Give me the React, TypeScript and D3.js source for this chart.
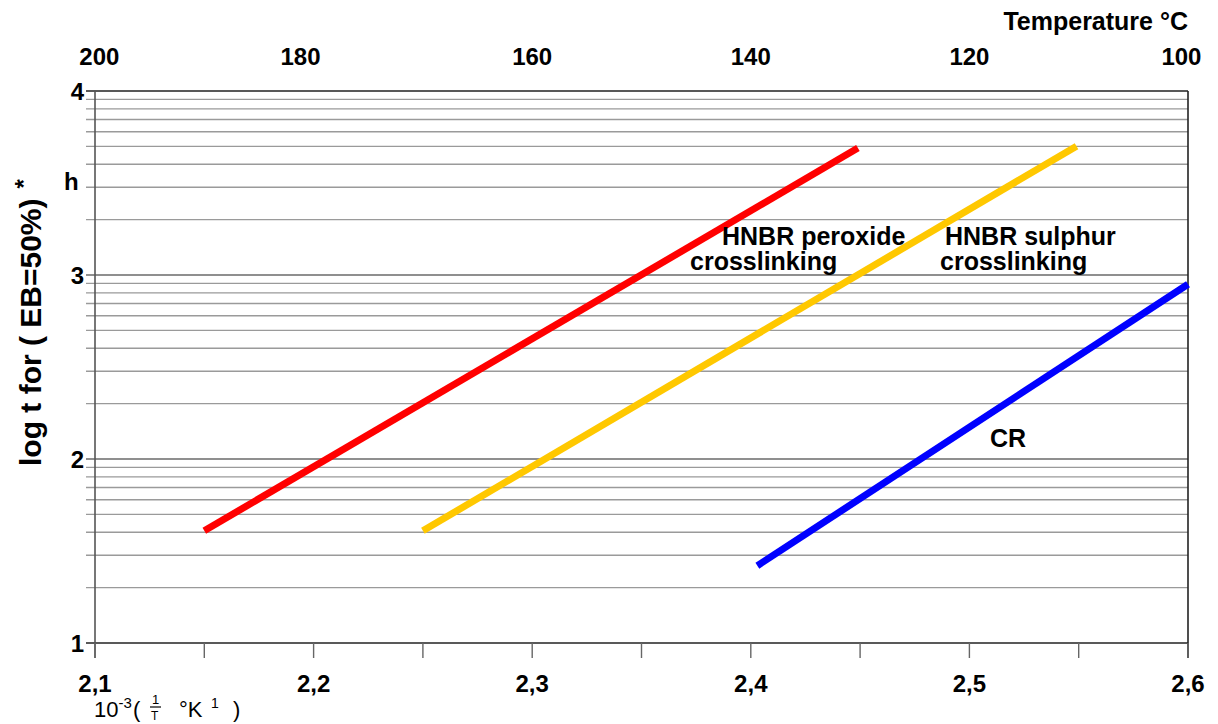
import React from 'react';
import * as d3 from 'd3';

// 1000/T values (x) and log t values (y)
const redX = [2.15, 2.449];
const redY = [1.61, 3.69];
const yellowX = [2.25, 2.549];
const yellowY = [1.61, 3.70];
const blueX = [2.403, 2.6];
const blueY = [1.42, 2.95];

const bottomTicks = [2.1, 2.15, 2.2, 2.25, 2.3, 2.35, 2.4, 2.45, 2.5, 2.55, 2.6];
const bottomLabels = ['2,1', '2,2', '2,3', '2,4', '2,5', '2,6'];
const bottomLabelPos = [2.1, 2.2, 2.3, 2.4, 2.5, 2.6];
const tempLabels = ['200', '180', '160', '140', '120', '100'];
const tempPos = [2.102, 2.194, 2.3, 2.4, 2.5, 2.597];
const yLabels = [1, 2, 3, 4];

const width = 1218;
const height = 724;

export default () => {
  const x = d3.scaleLinear().domain([2.1, 2.6]).range([95, 1188]);
  const y = d3.scaleLinear().domain([1, 4]).range([643, 91]);

  // log paper rulings within each decade
  let grid: number[] = [];
  for (let d = 1; d < 4; d++) {
    for (let k = 2; k <= 9; k++) grid.push(d + Math.log10(k));
  }

  const line = d3.line<[number, number]>().x(p => x(p[0])).y(p => y(p[1]));
  const series = [
    { xs: redX, ys: redY, color: '#ff0000' },
    { xs: yellowX, ys: yellowY, color: '#ffc800' },
    { xs: blueX, ys: blueY, color: '#0000ff' },
  ];

  const font = 'Liberation Sans, Arial, sans-serif';

  return (
    <svg width={width} height={height} style={{ position: 'absolute', left: 0, top: 0 }} fontFamily={font}>
      <rect width={width} height={height} fill="#fff" />
      {grid.map(g => (
        <line key={g} x1={86} x2={x(2.6)} y1={y(g)} y2={y(g)} stroke="#9a9a9a" strokeWidth={1.4} />
      ))}
      {[2, 3].map(v => (
        <line key={v} x1={86} x2={x(2.6)} y1={y(v)} y2={y(v)} stroke="#6a6a6a" strokeWidth={1.4} />
      ))}
      {[1, 4].map(v => (
        <line key={v} x1={86} x2={x(2.6)} y1={y(v)} y2={y(v)} stroke="#222" strokeWidth={1.5} />
      ))}
      {/* frame */}
      <line x1={x(2.1)} x2={x(2.1)} y1={y(4)} y2={y(1) + 15} stroke="#555" strokeWidth={1.6} />
      <line x1={x(2.6)} x2={x(2.6)} y1={y(4)} y2={y(1) + 15} stroke="#222" strokeWidth={1.6} />
      {bottomTicks.map(t => (
        <line key={t} x1={x(t)} x2={x(t)} y1={y(1)} y2={y(1) + 15} stroke="#666" strokeWidth={1.4} />
      ))}

      {series.map((s, i) => (
        <path
          key={i}
          d={line(s.xs.map((v, j) => [v, s.ys[j]] as [number, number])) || ''}
          fill="none"
          stroke={s.color}
          strokeWidth={7}
        />
      ))}

      {/* axis labels */}
      {yLabels.map(v => (
        <text key={v} x={84} y={y(v) + 9} textAnchor="end" fontSize={24} fontWeight="bold">{v}</text>
      ))}
      <text x={64} y={190} fontSize={24} fontWeight="bold">h</text>
      {bottomLabels.map((l, i) => (
        <text key={l} x={x(bottomLabelPos[i])} y={692} textAnchor="middle" fontSize={24} fontWeight="bold">{l}</text>
      ))}
      {tempLabels.map((l, i) => (
        <text key={l} x={x(tempPos[i])} y={65} textAnchor="middle" fontSize={24} fontWeight="bold">{l}</text>
      ))}
      <text x={1188} y={30} textAnchor="end" fontSize={25} fontWeight="bold">Temperature °C</text>

      <text transform="translate(41,466) rotate(-90)" fontSize={30} fontWeight="bold">
        log t for ( EB=50%)
        <tspan dx={10} dy={-9} fontSize={24}>*</tspan>
      </text>

      {/* 10^-3 (1/T °K^1) */}
      <g fontSize={22}>
        <text x={94} y={717}>10<tspan dy={-9} fontSize={15}>-3</tspan></text>
        <text x={133} y={717}>(</text>
        <text x={152} y={704} fontSize={13}>1</text>
        <line x1={150} x2={161} y1={707} y2={707} stroke="#000" strokeWidth={1.2} />
        <text x={151} y={720} fontSize={12}>T</text>
        <text x={179} y={717}>°K</text>
        <text x={211} y={708} fontSize={14}>1</text>
        <text x={233} y={717}>)</text>
      </g>

      <g fontSize={25} fontWeight="bold">
        <text x={722} y={245}>HNBR peroxide</text>
        <text x={690} y={270}>crosslinking</text>
        <text x={945} y={245}>HNBR sulphur</text>
        <text x={940} y={270}>crosslinking</text>
        <text x={990} y={447}>CR</text>
      </g>
    </svg>
  );
};
